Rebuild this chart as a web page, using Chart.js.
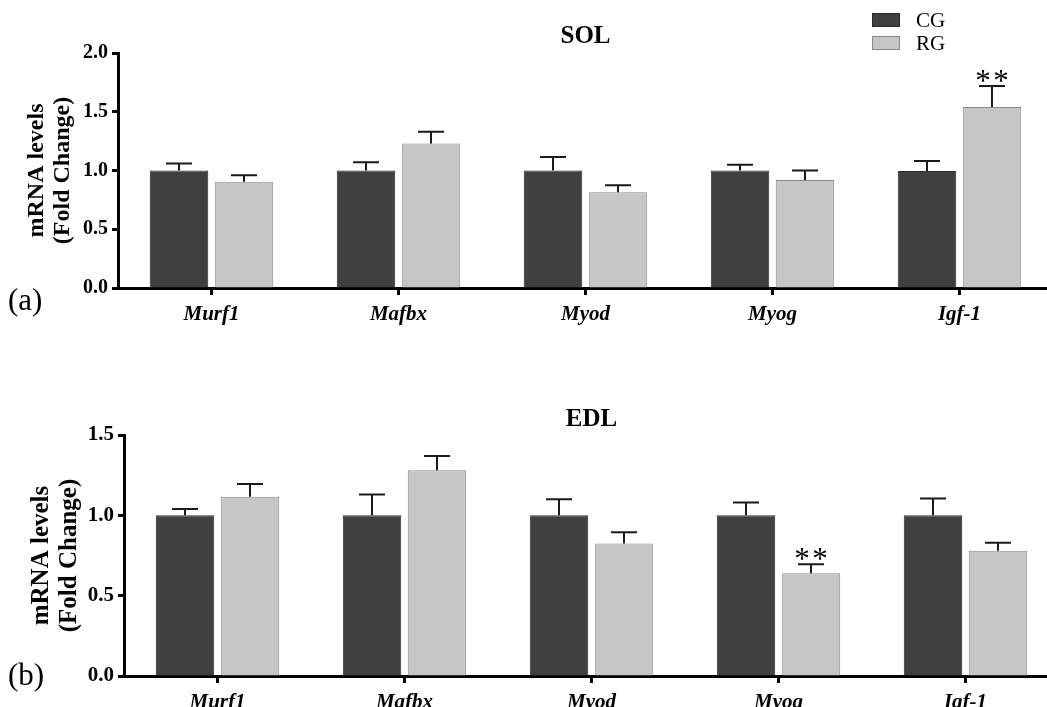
<!DOCTYPE html>
<html>
<head>
<meta charset="utf-8">
<script src="https://cdn.jsdelivr.net/npm/chart.js@4.4.0/dist/chart.umd.min.js"></script>
<style>
  html, body { margin: 0; padding: 0; background: #fff; overflow: hidden; width: 1047px; height: 707px; }
  #sol { position: absolute; left: 0; top: 0; }
  #edl { position: absolute; left: 0; top: 380px; }
</style>
</head>
<body>
<canvas id="sol" width="1053" height="330" style="width:1053px;height:330px"></canvas>
<canvas id="edl" width="1059" height="327" style="width:1059px;height:327px"></canvas>
<script>
// data
const genes = ['Murf1', 'Mafbx', 'Myod', 'Myog', 'Igf-1'];
const groups = ['CG', 'RG'];

const solCG = [1.0, 1.0, 1.0, 1.0, 0.995];
const solCGErr = [0.06, 0.07, 0.115, 0.05, 0.085];
const solRG = [0.905, 1.23, 0.815, 0.92, 1.54];
const solRGErr = [0.055, 0.10, 0.06, 0.08, 0.18];
const solRGSig = ['', '', '', '', '**'];
const solTicks = [0.0, 0.5, 1.0, 1.5, 2.0];

const edlCG = [1.0, 1.0, 1.0, 1.0, 1.0];
const edlCGErr = [0.04, 0.13, 0.10, 0.08, 0.105];
const edlRG = [1.115, 1.28, 0.825, 0.64, 0.78];
const edlRGErr = [0.08, 0.09, 0.07, 0.055, 0.05];
const edlRGSig = ['', '', '', '**', ''];
const edlTicks = [0.0, 0.5, 1.0, 1.5];

const serif = "'Liberation Serif', 'Times New Roman', serif";
const darkFill = '#404040';
const lightFill = '#c6c6c6';

// error bars + significance stars on top of each bar
const errorBars = {
    id: 'errorBars',
    afterDatasetsDraw(chart) {
        const ctx = chart.ctx;
        const yScale = chart.scales.y;
        chart.data.datasets.forEach((ds, i) => {
            const meta = chart.getDatasetMeta(i);
            meta.data.forEach((bar, j) => {
                const top = yScale.getPixelForValue(ds.data[j] + ds.errors[j]);
                ctx.save();
                ctx.strokeStyle = '#1a1a1a';
                ctx.lineWidth = 2;
                ctx.beginPath();
                ctx.moveTo(bar.x, bar.y);
                ctx.lineTo(bar.x, top);
                ctx.moveTo(bar.x - 13, top);
                ctx.lineTo(bar.x + 13, top);
                ctx.stroke();
                if (ds.sig && ds.sig[j]) {
                    ctx.fillStyle = '#000';
                    ctx.font = '31px ' + serif;
                    ctx.textAlign = 'center';
                    ctx.textBaseline = 'alphabetic';
                    ctx.fillText('*', bar.x - 9, top + 5);
                    ctx.fillText('*', bar.x + 9, top + 5);
                }
                ctx.restore();
            });
        });
    }
};

// panel letter and the small legend box
const panelDecor = {
    id: 'panelDecor',
    afterDraw(chart, args, opts) {
        const ctx = chart.ctx;
        ctx.save();
        ctx.fillStyle = '#000';
        ctx.font = '31px ' + serif;
        ctx.textAlign = 'left';
        ctx.textBaseline = 'middle';
        ctx.fillText(opts.letter, 8, opts.letterY);
        if (opts.legend) {
            chart.data.datasets.forEach((ds, i) => {
                const y = 13 + i * 23;
                ctx.fillStyle = ds.backgroundColor;
                ctx.fillRect(872, y, 28, 14);
                ctx.strokeStyle = ds.borderColor;
                ctx.lineWidth = 1;
                ctx.strokeRect(872.5, y + 0.5, 27, 13);
                ctx.fillStyle = '#000';
                ctx.font = '21px ' + serif;
                ctx.textBaseline = 'middle';
                ctx.fillText(ds.label, 916, y + 8);
            });
        }
        ctx.restore();
    }
};

function makeChart(id, opts) {
    return new Chart(document.getElementById(id), {
        type: 'bar',
        data: {
            labels: genes,
            datasets: [{
                label: groups[0],
                data: opts.cg,
                errors: opts.cgErr,
                backgroundColor: darkFill,
                borderColor: '#2a2a2a',
                borderWidth: 1,
                categoryPercentage: 0.695,
                barPercentage: 0.9
            }, {
                label: groups[1],
                data: opts.rg,
                errors: opts.rgErr,
                sig: opts.sig,
                backgroundColor: lightFill,
                borderColor: '#8a8a8a',
                borderWidth: 1,
                categoryPercentage: 0.695,
                barPercentage: 0.9
            }]
        },
        options: {
            responsive: false,
            animation: false,
            layout: { padding: 0 },
            plugins: {
                legend: { display: false },
                tooltip: { enabled: false },
                title: {
                    display: true,
                    text: opts.title,
                    fullSize: false,
                    color: '#000',
                    font: { family: serif, size: 25, weight: 'bold', lineHeight: 1.2 },
                    padding: opts.titlePad
                },
                panelDecor: { letter: opts.letter, letterY: opts.letterY, legend: opts.legend }
            },
            scales: {
                x: {
                    offset: true,
                    afterFit: (s) => { s.height = opts.xHeight; },
                    border: { display: true, width: 3, color: '#000' },
                    grid: { display: true, offset: false, drawOnChartArea: false, tickLength: 7, tickWidth: 3, tickColor: '#000' },
                    ticks: {
                        color: '#000',
                        font: { family: serif, size: 21, weight: 'bold', style: 'italic' },
                        padding: 7,
                        maxRotation: 0,
                        autoSkip: false
                    }
                },
                y: {
                    min: 0,
                    max: opts.ticks[opts.ticks.length - 1],
                    afterBuildTicks: (s) => { s.ticks = opts.ticks.map(v => ({ value: v })); },
                    afterFit: (s) => { s.width = opts.yWidth; },
                    border: { display: true, width: 3, color: '#000' },
                    grid: { display: true, drawOnChartArea: false, tickLength: 6, tickWidth: 3, tickColor: '#000' },
                    ticks: {
                        color: '#000',
                        font: { family: serif, size: opts.tickSize, weight: 'bold' },
                        padding: 4,
                        callback: (v) => Number(v).toFixed(1)
                    },
                    title: {
                        display: true,
                        text: ['mRNA levels', '(Fold Change)'],
                        color: '#000',
                        font: { family: serif, size: opts.yTitleSize, weight: 'bold', lineHeight: opts.yTitleLH },
                        padding: { top: opts.yTitlePad, bottom: 0 }
                    }
                }
            }
        },
        plugins: [errorBars, panelDecor]
    });
}

makeChart('sol', {
    title: 'SOL', cg: solCG, cgErr: solCGErr, rg: solRG, rgErr: solRGErr, sig: solRGSig,
    ticks: solTicks, titlePad: { top: 22, bottom: 1 }, xHeight: 42, yWidth: 118,
    tickSize: 20, yTitleSize: 24, yTitleLH: 1.08, yTitlePad: 24,
    letter: '(a)', letterY: 302, legend: true
});

makeChart('edl', {
    title: 'EDL', cg: edlCG, cgErr: edlCGErr, rg: edlRG, rgErr: edlRGErr, sig: edlRGSig,
    ticks: edlTicks, titlePad: { top: 25, bottom: 0 }, xHeight: 31, yWidth: 124,
    tickSize: 21, yTitleSize: 25, yTitleLH: 1.12, yTitlePad: 28,
    letter: '(b)', letterY: 297, legend: false
});
</script>
</body>
</html>
